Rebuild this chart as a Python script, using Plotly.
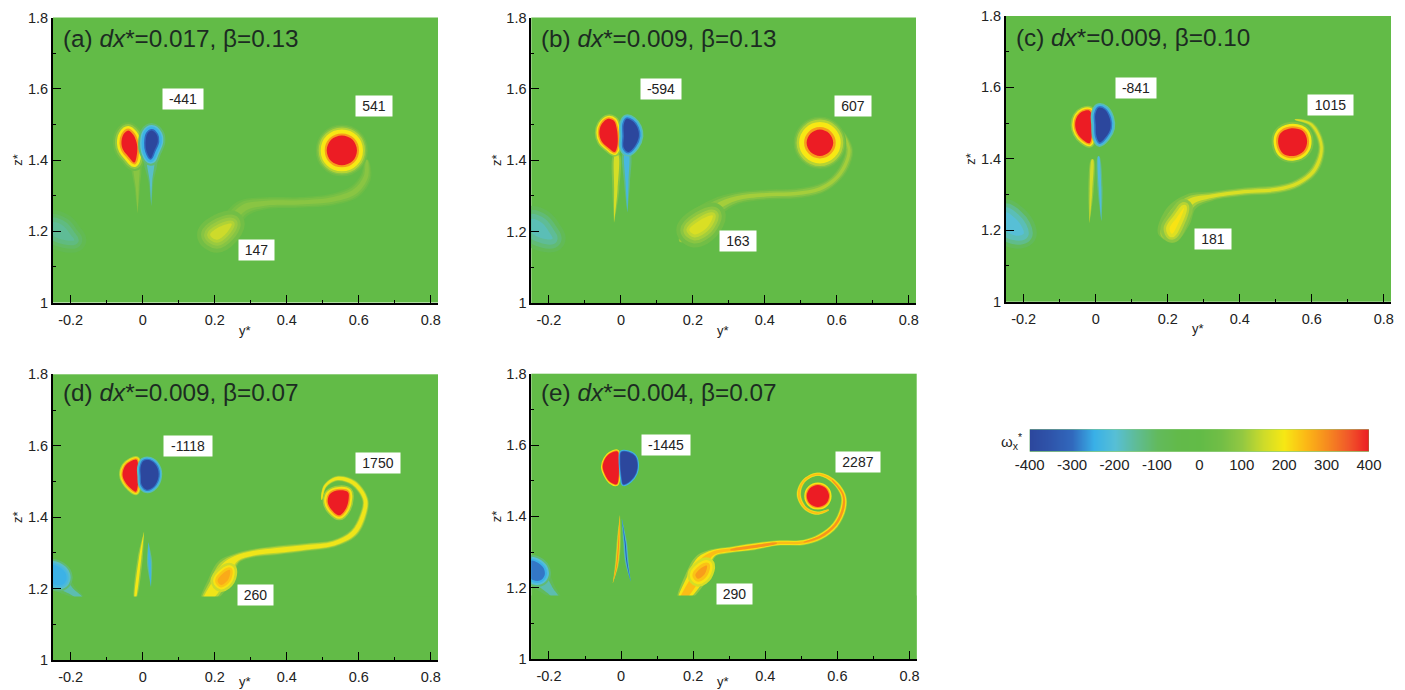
import numpy as np
import plotly.graph_objects as go

W, H = 1405, 690
# ---------- colour bar ----------
LEVELS = [-400,-350,-300,-250,-200,-150,-100,-50,0,50,100,150,200,250,300,350,400]
LEVEL_COLORS = ["#2c479d","#2f55ab","#3169bd","#39b0e8","#57bfd6","#5fbc96","#62ba5e","#62ba4a",
                "#62bb47","#72be46","#93c842","#cddb2b","#f7e814","#fcb816","#f68b1f","#f1592a","#ec1c24"]
BAR_TICKS = [-400,-300,-200,-100,0,100,200,300,400]
BAR_TEXT = ["-400","-300","-200","-100","0","100","200","300","400"]
Y_TICKS = [-0.2,0,0.2,0.4,0.6,0.8]
Y_TICK_TEXT = ["-0.2","0","0.2","0.4","0.6","0.8"]
Z_TICKS = [1,1.2,1.4,1.6,1.8]
Z_TICK_TEXT = ["1","1.2","1.4","1.6","1.8"]

# ---------- panel (a) ----------
A_TITLE = "(a) <i>dx</i>*=0.017, β=0.13"
A_TITLE_Z = 1.742
A_LABELS = [("-441",0.112,1.571,40),("541",0.642,1.552,36),("147",0.315,1.147,35)]
A_RED_Y = [-.015,-.017,-.023,-.040,-.054,-.059,-.054,-.040,-.026,-.019,-.015]
A_RED_Z = [1.438,1.410,1.393,1.410,1.428,1.447,1.471,1.483,1.471,1.456,1.438]
A_BLUE_Y = [.008,.011,.022,.031,.042,.039,.025,.013,.008]
A_BLUE_Z = [1.447,1.424,1.405,1.424,1.452,1.471,1.483,1.474,1.447]
A_VORT_Y = [.595,.583,.553,.523,.511,.523,.553,.583,.595]
A_VORT_Z = [1.427,1.457,1.469,1.457,1.427,1.397,1.385,1.397,1.427]
A_FIL_Y = [.622,.620,.590,.530,.437,.344,.280,.233,.178]
A_FIL_Z = [1.400,1.354,1.312,1.290,1.281,1.279,1.265,1.213,1.171]
A_FIL_W = [.003,.010,.012,.011,.010,.011,.016,.018,.004]
A_YT_Y = [-.018,-.015,-.014]; A_YT_Z = [1.39,1.32,1.25]; A_YT_W = [.008,.005,0]
A_BT_Y = [.022,.023,.024]; A_BT_Z = [1.40,1.34,1.27]; A_BT_W = [.012,.005,0]
A_BLOB_Y = [.187,.215,.247,.233,.206,.187]; A_BLOB_Z = [1.190,1.213,1.221,1.195,1.176,1.190]
A_PATCH_Y = [-.25,-.22,-.20,-.19,-.215,-.25,-.25]; A_PATCH_Z = [1.225,1.215,1.19,1.175,1.175,1.19,1.225]

# ---------- panel (b) ----------
B_TITLE = "(b) <i>dx</i>*=0.009, β=0.13"
B_TITLE_Z = 1.742
B_LABELS = [("-594",0.111,1.601,40),("607",0.644,1.553,36),("163",0.325,1.174,36)]
B_RED_Y = [-.009,-.010,-.017,-.035,-.054,-.060,-.054,-.035,-.019,-.012,-.009]
B_RED_Z = [1.468,1.440,1.423,1.435,1.454,1.477,1.500,1.516,1.510,1.491,1.468]
B_BLUE_Y = [.008,.008,.020,.039,.050,.046,.032,.016,.008,.008]
B_BLUE_Z = [1.468,1.435,1.423,1.440,1.468,1.491,1.510,1.516,1.501,1.468]
B_VORT_Y = [.590,.579,.553,.527,.516,.527,.553,.579,.590]
B_VORT_Z = [1.449,1.475,1.486,1.475,1.449,1.423,1.412,1.423,1.449]
B_FIL_Y = [.613,.634,.622,.594,.553,.488,.414,.321,.266,.219,.164]
B_FIL_Z = [1.482,1.430,1.384,1.346,1.320,1.307,1.304,1.293,1.269,1.229,1.173]
B_FIL_W = [.002,.008,.009,.009,.010,.010,.010,.012,.018,.024,.004]
B_YT_Y = [-.012,-.014,-.019]; B_YT_Z = [1.416,1.32,1.224]; B_YT_W = [.007,.008,0]
B_BT_Y = [.016,.017,.018]; B_BT_Z = [1.421,1.34,1.253]; B_BT_W = [.008,.007,0]
B_BLOB_Y = [.190,.220,.255,.240,.205,.190]; B_BLOB_Z = [1.205,1.232,1.245,1.212,1.192,1.205]
B_PATCH_Y = [-.25,-.22,-.20,-.19,-.215,-.25,-.25]; B_PATCH_Z = [1.235,1.225,1.20,1.18,1.18,1.20,1.235]

# ---------- panel (c) ----------
C_TITLE = "(c) <i>dx</i>*=0.009, β=0.10"
C_TITLE_Z = 1.739
C_LABELS = [("-841",0.111,1.599,40),("1015",0.653,1.551,45),("181",0.325,1.176,36)]
C_RED_Y = [-.009,-.011,-.017,-.035,-.051,-.057,-.051,-.035,-.017,-.010,-.009]
C_RED_Z = [1.491,1.463,1.444,1.453,1.472,1.495,1.519,1.533,1.535,1.519,1.491]
C_BLUE_Y = [0,.002,.011,.028,.041,.039,.025,.008,-.001,0]
C_BLUE_Z = [1.496,1.463,1.446,1.461,1.486,1.514,1.538,1.543,1.524,1.496]
C_VORT_Y = [.587,.578,.550,.520,.507,.512,.540,.575,.587]
C_VORT_Z = [1.450,1.422,1.408,1.415,1.442,1.470,1.485,1.478,1.450]
C_FIL_Y = [.553,.599,.627,.608,.562,.506,.414,.321,.266,.229,.196]
C_FIL_Z = [1.510,1.496,1.435,1.370,1.332,1.315,1.308,1.295,1.281,1.239,1.178]
C_FIL_W = [.001,.006,.007,.009,.009,.009,.009,.010,.018,.030,.020]
C_YT_Y = [-.009,-.013,-.017]; C_YT_Z = [1.398,1.31,1.220]; C_YT_W = [.003,.006,0]
C_BT_Y = [.008,.012,.016]; C_BT_Z = [1.407,1.32,1.225]; C_BT_W = [.002,.006,0]
C_BLOB_Y = [.205,.225,.245,.232,.212,.205]; C_BLOB_Z = [1.205,1.235,1.262,1.225,1.190,1.205]
C_PATCH_Y = [-.25,-.225,-.205,-.20,-.22,-.25,-.25]; C_PATCH_Z = [1.25,1.235,1.21,1.19,1.185,1.20,1.25]

# ---------- panel (d) ----------
D_TITLE = "(d) <i>dx</i>*=0.009, β=0.07"
D_TITLE_Z = 1.749
D_LABELS = [("-1118",0.126,1.599,48),("1750",0.654,1.552,44),("260",0.312,1.182,35)]
D_RED_Y = [-.012,-.014,-.019,-.035,-.049,-.056,-.049,-.032,-.017,-.012,-.012]
D_RED_Z = [1.514,1.486,1.471,1.482,1.499,1.519,1.543,1.557,1.561,1.538,1.514]
D_BLUE_Y = [-.005,-.003,.011,.031,.044,.039,.020,.002,-.006,-.005]
D_BLUE_Z = [1.514,1.491,1.477,1.486,1.514,1.542,1.559,1.557,1.538,1.514]
D_VORT_Y = [.572,.565,.546,.525,.514,.520,.546,.570,.572]
D_VORT_Z = [1.452,1.425,1.405,1.420,1.442,1.465,1.475,1.470,1.452]
D_FIL_Y = [.497,.506,.539,.585,.618,.611,.585,.530,.456,.372,.307,.261,.233,.206,.172]
D_FIL_Z = [1.449,1.486,1.508,1.496,1.449,1.402,1.355,1.326,1.316,1.307,1.299,1.285,1.259,1.210,1.160]
D_FIL_W = [.001,.004,.006,.007,.007,.008,.009,.008,.009,.010,.009,.011,.022,.022,.010]
D_YT_Y = [.004,-.007,-.021]; D_YT_Z = [1.360,1.285,1.170]; D_YT_W = [0,.006,.002]
D_BT_Y = [.016,.019,.023]; D_BT_Z = [1.330,1.275,1.205]; D_BT_W = [0,.006,0]
D_BLOB_Y = [.208,.226,.242,.238,.218,.208]; D_BLOB_Z = [1.222,1.245,1.252,1.226,1.210,1.222]
D_PATCH_Y = [-.25,-.235,-.215,-.212,-.225,-.25,-.25]; D_PATCH_Z = [1.265,1.262,1.245,1.225,1.21,1.215,1.265]
D_TAIL_Y = [-.225,-.195,-.17]; D_TAIL_Z = [1.215,1.19,1.172]; D_TAIL_W = [.020,.012,.006]

# ---------- panel (e) ----------
E_TITLE = "(e) <i>dx</i>*=0.004, β=0.07"
E_TITLE_Z = 1.746
E_LABELS = [("-1445",0.125,1.599,48),("2287",0.656,1.552,44),("290",0.314,1.182,35)]
E_RED_Y = [-.006,-.007,-.012,-.031,-.044,-.051,-.044,-.031,-.010,-.006,-.006]
E_RED_Z = [1.535,1.507,1.490,1.497,1.516,1.539,1.562,1.576,1.582,1.558,1.535]
E_BLUE_Y = [-.001,.002,.006,.025,.041,.045,.039,.020,.001,-.002,-.001]
E_BLUE_Z = [1.535,1.507,1.490,1.499,1.521,1.544,1.568,1.580,1.580,1.558,1.535]
E_VORT_Y = [.577,.568,.546,.524,.515,.524,.546,.568,.577]
E_VORT_Z = [1.457,1.479,1.488,1.479,1.457,1.435,1.426,1.435,1.457]
E_FIL_Y = [.576,.544,.511,.493,.506,.544,.585,.616,.616,.594,.553,.506,.432,.368,.303,.256,.229,.201,.165]
E_FIL_Z = [1.418,1.409,1.423,1.460,1.498,1.518,1.502,1.460,1.423,1.376,1.343,1.327,1.325,1.315,1.306,1.297,1.273,1.217,1.160]
E_FIL_W = [.001,.004,.004,.005,.004,.004,.005,.006,.007,.007,.007,.006,.006,.008,.007,.009,.020,.022,.008]
E_ORANGE_Y = [.585,.616,.616,.594,.553,.506]
E_ORANGE_Z = [1.502,1.460,1.423,1.376,1.343,1.327]
E_ORANGE_W = [.0005,.002,.003,.003,.003,.0005]
E_CORE_Y = [.432,.368,.303]; E_CORE_Z = [1.325,1.315,1.306]; E_CORE_W = [.001,.004,.001]
E_YT_Y = [-.003,-.006,-.012,-.023]; E_YT_Z = [1.404,1.339,1.264,1.212]; E_YT_W = [0,.004,.004,0]
E_BT_Y = [.002,.011,.016,.027]; E_BT_Z = [1.395,1.329,1.273,1.217]; E_BT_W = [0,.004,.004,0]
E_BLOB_Y = [.206,.222,.238,.232,.214,.206]; E_BLOB_Z = [1.235,1.255,1.262,1.238,1.225,1.235]
E_PATCH_Y = [-.25,-.235,-.215,-.212,-.225,-.25,-.25]; E_PATCH_Z = [1.275,1.272,1.255,1.235,1.22,1.225,1.275]
E_TAIL_Y = [-.225,-.195,-.172]; E_TAIL_Z = [1.225,1.19,1.165]; E_TAIL_W = [.022,.014,.006]

# the two lower panels have a horizontal cut in the field below this height
CUT_Z = 1.178
CUT_Y = [-0.249,0.82,0.82,-0.249,-0.249]
CUT_ZS = [1,1,CUT_Z,CUT_Z,1]

# ---------- panel frames (pixels of the page) ----------
FRAMES = {"a":(53,438,17.5,302.5),"b":(531.3,916,17.5,303),"c":(1006,1391,16,301.7),
          "d":(53,438,374.3,660),"e":(531.3,916.7,373.7,659)}
XLABEL_PX = {"a":330,"b":330,"c":328,"d":681,"e":681}
Y_RANGE = [-0.249,0.82]
Z_RANGE = [1,1.8]
BG = "#62bb47"
FONT = "Liberation Sans"

def color(level):
    v = np.interp(level, LEVELS, range(len(LEVELS)))
    i = min(int(v), len(LEVELS)-2); t = v-i
    a = [int(LEVEL_COLORS[i][k:k+2],16) for k in (1,3,5)]
    b = [int(LEVEL_COLORS[i+1][k:k+2],16) for k in (1,3,5)]
    return "rgb(%d,%d,%d)" % tuple(round(p+(q-p)*t) for p,q in zip(a,b))

fig = go.Figure()

def poly(n, ys, zs, level, stroke=0, linear=False):
    fig.add_trace(go.Scatter(x=ys, y=zs, mode="lines", fill="toself", fillcolor=color(level),
        line=dict(color=color(level), width=stroke, shape="linear" if linear else "spline", smoothing=1.0),
        xaxis="x"+n, yaxis="y"+n, hoverinfo="skip", showlegend=False))

def shape(n, ys, zs, layers):
    for level, stroke in layers:
        poly(n, ys, zs, level, stroke)

def ribbon(n, ys, zs, hw, layers):
    ys, zs, hw = map(np.asarray, (ys, zs, hw))
    dy, dz = np.gradient(ys), np.gradient(zs)
    L = np.hypot(dy, dz)
    ny, nz = -dz/L, dy/L
    for level, k in layers:
        py = np.r_[ys+ny*hw*k, (ys-ny*hw*k)[::-1]]
        pz = np.r_[zs+nz*hw*k, (zs-nz*hw*k)[::-1]]
        poly(n, py.tolist()+[py[0]], pz.tolist()+[pz[0]], level)

PANELS = {
 "a": dict(t=A_TITLE,tz=A_TITLE_Z,l=A_LABELS,red=(A_RED_Y,A_RED_Z),blue=(A_BLUE_Y,A_BLUE_Z),v=(A_VORT_Y,A_VORT_Z),
   fil=(A_FIL_Y,A_FIL_Z,A_FIL_W),yt=(A_YT_Y,A_YT_Z,A_YT_W),bt=(A_BT_Y,A_BT_Z,A_BT_W),
   blob=(A_BLOB_Y,A_BLOB_Z),patch=(A_PATCH_Y,A_PATCH_Z),
   rs=[(40,17),(100,13),(200,9),(280,4)],bs=[(-120,15),(-200,11),(-245,8),(-300,3)],
   vs=[(40,22),(80,19),(130,16),(200,12),(280,4)],fl=[(30,1.5),(60,1.1),(85,.6)],
   yl=[(50,1.4),(85,.8)],bl=[(-110,1.4),(-190,.7)],
   bb=[(50,26),(80,18),(105,12),(125,6),(150,0)],pp=[(-70,24),(-105,16),(-130,9),(-150,0)]),
 "b": dict(t=B_TITLE,tz=B_TITLE_Z,l=B_LABELS,red=(B_RED_Y,B_RED_Z),blue=(B_BLUE_Y,B_BLUE_Z),v=(B_VORT_Y,B_VORT_Z),
   fil=(B_FIL_Y,B_FIL_Z,B_FIL_W),yt=(B_YT_Y,B_YT_Z,B_YT_W),bt=(B_BT_Y,B_BT_Z,B_BT_W),
   blob=(B_BLOB_Y,B_BLOB_Z),patch=(B_PATCH_Y,B_PATCH_Z),
   rs=[(100,9),(200,6),(280,3)],bs=[(-170,9),(-235,6),(-290,3)],
   vs=[(40,26),(80,23),(130,20),(200,15),(280,5)],fl=[(40,1.4),(80,1),(115,.5)],
   yl=[(80,1.2),(160,.6)],bl=[(-130,1.2),(-225,.6)],
   bb=[(50,26),(85,18),(115,12),(140,6),(165,0)],pp=[(-80,26),(-120,18),(-150,10),(-175,0)]),
 "c": dict(t=C_TITLE,tz=C_TITLE_Z,l=C_LABELS,red=(C_RED_Y,C_RED_Z),blue=(C_BLUE_Y,C_BLUE_Z),v=(C_VORT_Y,C_VORT_Z),
   fil=(C_FIL_Y,C_FIL_Z,C_FIL_W),yt=(C_YT_Y,C_YT_Z,C_YT_W),bt=(C_BT_Y,C_BT_Z,C_BT_W),
   blob=(C_BLOB_Y,C_BLOB_Z),patch=(C_PATCH_Y,C_PATCH_Z),
   rs=[(100,9),(200,6),(280,3)],bs=[(-170,9),(-235,6),(-290,3)],
   vs=[(70,13),(200,9),(280,4)],fl=[(60,1.3),(115,.9),(165,.5)],
   yl=[(90,1.2),(155,.6)],bl=[(-130,1.2),(-210,.6)],
   bb=[(90,18),(130,12),(170,7),(205,0)],pp=[(-90,26),(-140,18),(-175,10),(-200,0)]),
 "d": dict(t=D_TITLE,tz=D_TITLE_Z,l=D_LABELS,red=(D_RED_Y,D_RED_Z),blue=(D_BLUE_Y,D_BLUE_Z),v=(D_VORT_Y,D_VORT_Z),
   fil=(D_FIL_Y,D_FIL_Z,D_FIL_W),yt=(D_YT_Y,D_YT_Z,D_YT_W),bt=(D_BT_Y,D_BT_Z,D_BT_W),
   blob=(D_BLOB_Y,D_BLOB_Z),patch=(D_PATCH_Y,D_PATCH_Z),
   rs=[(120,7),(205,5),(280,2.5)],bs=[(-170,7),(-235,5),(-290,2.5)],
   vs=[(110,10),(205,7),(280,3)],fl=[(70,1.3),(130,1),(190,.7)],
   yl=[(100,1.2),(195,.55)],bl=[(-150,1.2),(-235,.6)],
   bb=[(150,14),(205,9),(235,5),(265,0)],pp=[(-120,12),(-190,8),(-225,4),(-245,0)]),
 "e": dict(t=E_TITLE,tz=E_TITLE_Z,l=E_LABELS,red=(E_RED_Y,E_RED_Z),blue=(E_BLUE_Y,E_BLUE_Z),v=(E_VORT_Y,E_VORT_Z),
   fil=(E_FIL_Y,E_FIL_Z,E_FIL_W),yt=(E_YT_Y,E_YT_Z,E_YT_W),bt=(E_BT_Y,E_BT_Z,E_BT_W),
   blob=(E_BLOB_Y,E_BLOB_Z),patch=(E_PATCH_Y,E_PATCH_Z),
   rs=[(205,3.5),(290,1.5)],bs=[(-235,3.5),(-300,1.5)],
   vs=[(205,5),(290,2)],fl=[(100,1.3),(205,1),(245,.55)],
   yl=[(110,1.3),(210,.8),(290,.4)],bl=[(-150,1.3),(-235,.8),(-340,.3)],
   bb=[(160,16),(205,11),(240,6),(280,0)],pp=[(-120,12),(-205,8),(-245,4),(-290,0)]),
}
PATCH_TAILS = {"d":(D_TAIL_Y,D_TAIL_Z,D_TAIL_W),"e":(E_TAIL_Y,E_TAIL_Z,E_TAIL_W)}

annotations = []
layout_axes = {}
for idx, (key, p) in enumerate(PANELS.items()):
    n = "" if idx == 0 else str(idx+1)
    l, r, t, b = FRAMES[key]
    ax = dict(linecolor="black", linewidth=1.8, mirror=False, showgrid=False, zeroline=False, automargin=False,
              ticks="inside", tickcolor="black", tickwidth=1.2, ticklen=8,
              tickfont=dict(family=FONT, size=14.5, color="#222"), showline=True)
    layout_axes["xaxis"+n] = dict(ax, domain=[l/W, r/W], range=Y_RANGE, anchor="y"+n,
        tickvals=Y_TICKS, ticktext=Y_TICK_TEXT, ticklabelstandoff=3,
        minor=dict(ticks="inside", ticklen=3, tickcolor="black", tickvals=[-.1,.1,.3,.5,.7]))
    layout_axes["yaxis"+n] = dict(ax, domain=[1-b/H, 1-t/H], range=Z_RANGE, anchor="x"+n,
        tickvals=Z_TICKS, ticktext=Z_TICK_TEXT,
        minor=dict(ticks="inside", ticklen=3, tickcolor="black", tickvals=[1.1,1.3,1.5,1.7]),
        title=dict(text="z*", font=dict(family=FONT, size=13, color="#222"), standoff=2))
    annotations.append(dict(text="y*", xref="x"+n, yref="paper", x=0.284, y=1-XLABEL_PX[key]/H,
        xanchor="center", yanchor="middle", showarrow=False,
        font=dict(family=FONT, size=13, color="#222")))
    ribbon(n, *p["yt"], p["yl"])
    ribbon(n, *p["bt"], p["bl"])
    if key in PATCH_TAILS:
        ribbon(n, *PATCH_TAILS[key], [(-90,1.2),(-170,.7)])
    shape(n, *p["patch"], p["pp"])
    ribbon(n, *p["fil"], p["fl"])
    if key == "e":
        ribbon(n, E_ORANGE_Y, E_ORANGE_Z, E_ORANGE_W, [(290,1)])
        ribbon(n, E_CORE_Y, E_CORE_Z, E_CORE_W, [(290,1)])
    shape(n, *p["blob"], p["bb"])
    if key in "de":
        poly(n, CUT_Y, CUT_ZS, 0, 0, linear=True)
    shape(n, *p["red"], p["rs"]+[(400,0)])
    shape(n, *p["blue"], p["bs"]+[(-400,0)])
    shape(n, *p["v"], p["vs"]+[(400,0)])
    annotations.append(dict(text=p["t"], xref="x"+n, yref="y"+n, x=-0.227, y=p["tz"],
        xanchor="left", yanchor="middle", showarrow=False,
        font=dict(family=FONT, size=24.3, color="#1c2b22")))
    for txt, yy, zz, w in p["l"]:
        annotations.append(dict(text=txt, xref="x"+n, yref="y"+n, x=yy, y=zz, showarrow=False,
            width=w, height=20, bgcolor="white", align="center", valign="middle", borderpad=0,
            font=dict(family=FONT, size=14, color="#222")))

# colour bar as its own heatmap
fig.add_trace(go.Heatmap(x=LEVELS, y=[0,1], z=[LEVELS,LEVELS], zmin=-400, zmax=400, zsmooth="best",
    colorscale=[[(v+400)/800, c] for v,c in zip(LEVELS,LEVEL_COLORS)], showscale=False,
    xaxis="x6", yaxis="y6", hoverinfo="skip"))
layout_axes["xaxis6"] = dict(domain=[1029.7/W,1369/W], range=[-400,400], anchor="y6", tickvals=BAR_TICKS, ticktext=BAR_TEXT,
    ticks="", showgrid=False, zeroline=False, showline=False, ticklabelstandoff=2, automargin=False,
    tickfont=dict(family=FONT, size=15, color="#222"))
layout_axes["yaxis6"] = dict(domain=[1-451.7/H,1-429.3/H], range=[0,1], anchor="x6", visible=False, automargin=False)
annotations.append(dict(text="ω<sub>x</sub><sup>*</sup>", xref="paper", yref="paper",
    x=1024/W, y=1-441/H, xanchor="right", yanchor="middle", showarrow=False,
    font=dict(family=FONT, size=15, color="#222")))

fig.update_layout(width=W, height=H, margin=dict(l=0,r=0,t=0,b=0), autosize=False,
    paper_bgcolor="white", plot_bgcolor=BG, showlegend=False, annotations=annotations, **layout_axes)
fig.write_html("out.html", config=dict(displayModeBar=False),
    post_script="document.body.style.margin='0';document.body.style.overflow='hidden';")
